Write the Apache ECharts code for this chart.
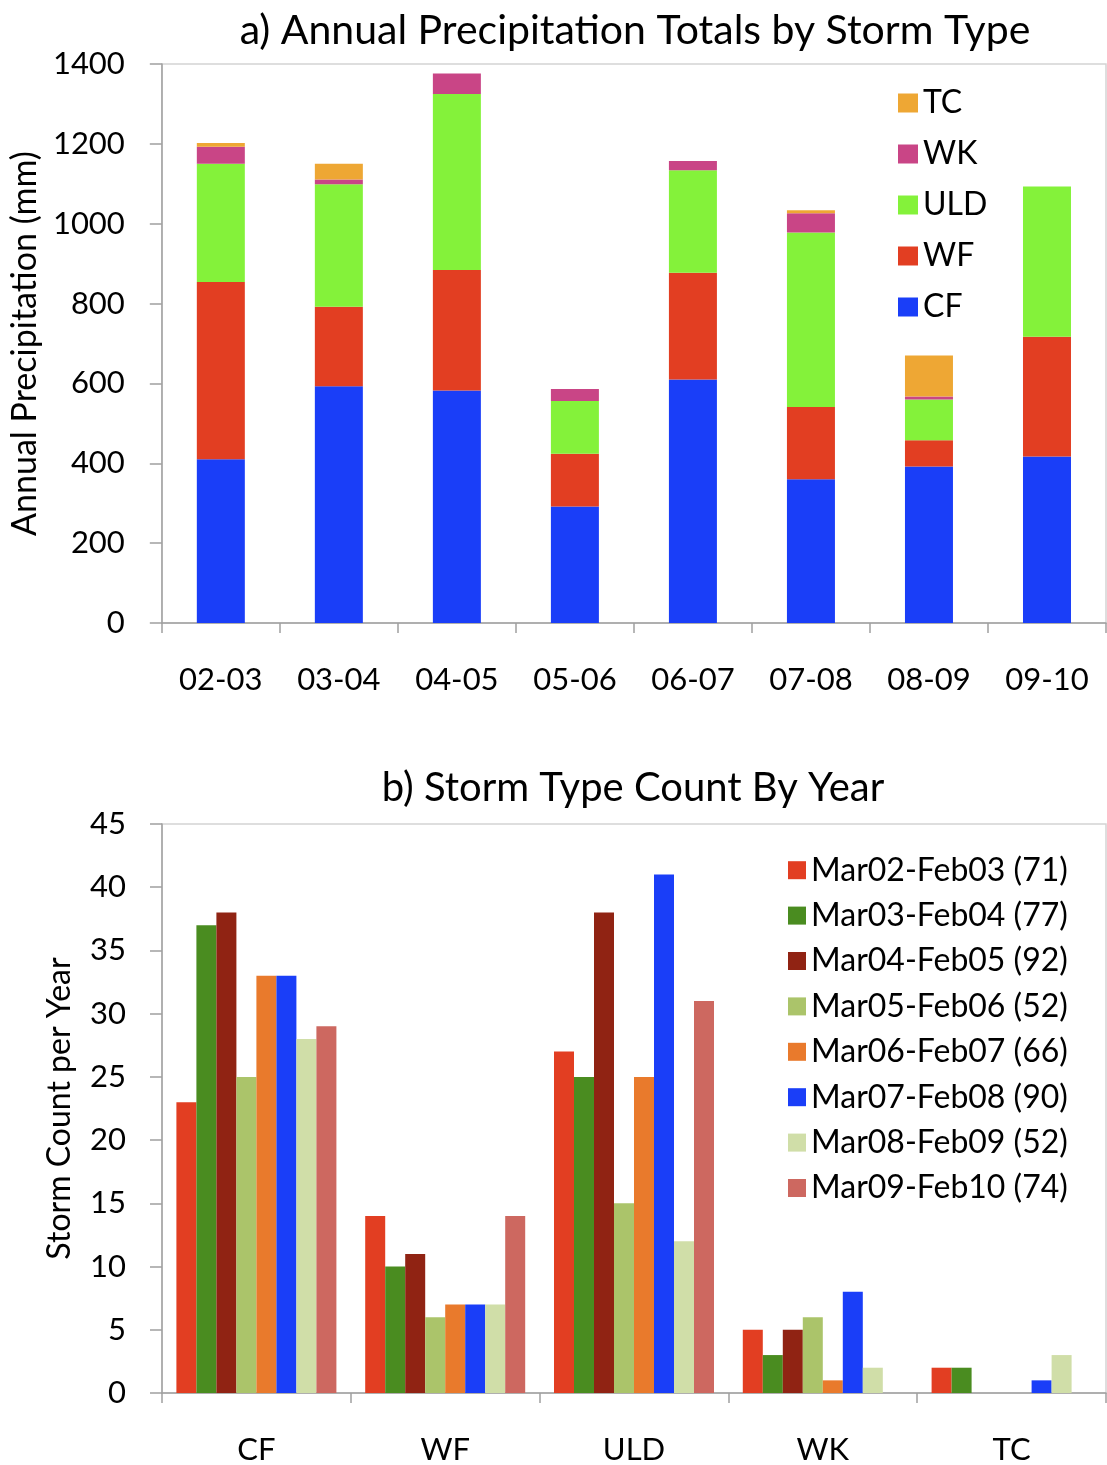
<!DOCTYPE html>
<html>
<head>
<meta charset="utf-8">
<script src="https://cdn.jsdelivr.net/npm/echarts@6/dist/echarts.min.js"></script>
<style>
html,body{margin:0;padding:0;background:#fff;}
#chart{width:1107px;height:1465px;}
</style>
</head>
<body>
<div id="chart"></div>
<script>
// ---- Panel a data (mm) ----
const years = ['02-03','03-04','04-05','05-06','06-07','07-08','08-09','09-10'];
const stormTypesA = ['CF','WF','ULD','WK','TC'];
const precipCF  = [410, 593, 582, 292, 610, 360, 392, 417];
const precipWF  = [444, 199, 302, 132, 267, 181,  66, 300];
const precipULD = [296, 307, 441, 132, 257, 437, 102, 376];
const precipWK  = [ 43,  12,  51,  30,  23,  48,   7,   0];
const precipTC  = [  9,  39,   0,   0,   0,   8, 103,   0];
const yTicksA = [0, 200, 400, 600, 800, 1000, 1200, 1400];

// ---- Panel b data (counts) ----
const stormTypesB = ['CF','WF','ULD','WK','TC'];
const seasons = ['Mar02-Feb03 (71)','Mar03-Feb04 (77)','Mar04-Feb05 (92)','Mar05-Feb06 (52)',
                 'Mar06-Feb07 (66)','Mar07-Feb08 (90)','Mar08-Feb09 (52)','Mar09-Feb10 (74)'];
const count0203 = [23, 14, 27, 5, 2];
const count0304 = [37, 10, 25, 3, 2];
const count0405 = [38, 11, 38, 5, 0];
const count0506 = [25,  6, 15, 6, 0];
const count0607 = [33,  7, 25, 1, 0];
const count0708 = [33,  7, 41, 8, 1];
const count0809 = [28,  7, 12, 2, 3];
const count0910 = [29, 14, 31, 0, 0];
const yTicksB = [0, 5, 10, 15, 20, 25, 30, 35, 40, 45];

const colorsA = {CF:'#1a3ef8', WF:'#e23e22', ULD:'#84f23a', WK:'#c94586', TC:'#eea734'};
const colorsB = ['#e23e22','#4a8c20','#902313','#abc46a','#e97a2c','#1a3ef8','#d0dea8','#cd6860'];

const FONT = 'Lato';
const axisGray = '#a0a0a0';

const chart = echarts.init(document.getElementById('chart'), null, {renderer:'canvas'});

const seriesA = [
  ['CF', precipCF], ['WF', precipWF], ['ULD', precipULD], ['WK', precipWK], ['TC', precipTC]
].map(([n, d]) => ({
  name: n, type: 'bar', stack: 'a', xAxisIndex: 0, yAxisIndex: 0,
  data: d, barWidth: 48, itemStyle: {color: colorsA[n]}
}));

const countsB = [count0203, count0304, count0405, count0506, count0607, count0708, count0809, count0910];
const seriesB = seasons.map((s, i) => ({
  name: s, type: 'bar', xAxisIndex: 1, yAxisIndex: 1,
  data: countsB[i], barWidth: 20, barGap: '0%',
  itemStyle: {color: colorsB[i]}
}));

const yAxisCommon = {
  type: 'value',
  nameLocation: 'middle',
  nameRotate: 90,
  axisLine: {show: true, lineStyle: {color: axisGray, width: 1.5}},
  axisTick: {show: true, length: 12, inside: false, lineStyle: {color: axisGray, width: 1.5}},
  splitLine: {show: false},
};
const xAxisCommon = {
  type: 'category',
  axisLine: {show: true, lineStyle: {color: axisGray, width: 1.5}},
  axisTick: {show: true, length: 10, alignWithLabel: false, lineStyle: {color: axisGray, width: 1.5}},
  splitLine: {show: false},
};

chart.setOption({
  backgroundColor: '#fff',
  animation: false,
  textStyle: {fontFamily: FONT, color: '#000'},
  title: [
    {text: 'a) Annual Precipitation Totals by Storm Type', left: 630, top: 5, textAlign: 'center',
     textStyle: {fontFamily: FONT, fontSize: 41, fontWeight: 'normal', color: '#000'}},
    {text: 'b) Storm Type Count By Year', left: 628, top: 763, textAlign: 'center',
     textStyle: {fontFamily: FONT, fontSize: 40, fontWeight: 'normal', color: '#000'}}
  ],
  legend: [
    {data: ['TC','WK','ULD','WF','CF'], orient: 'vertical', left: 893, top: 80,
     itemWidth: 20, itemHeight: 19, itemGap: 15, icon: 'rect',
     textStyle: {fontFamily: FONT, fontSize: 32, lineHeight: 36, color: '#000'}},
    {data: seasons, orient: 'vertical', left: 783, top: 848,
     itemWidth: 18, itemHeight: 18, itemGap: 11, icon: 'rect',
     textStyle: {fontFamily: FONT, fontSize: 32, lineHeight: 34.4, color: '#000'}}
  ],
  grid: [
    {left: 159, top: 64, width: 947, height: 559, show: true, borderColor: '#d4d4d4', borderWidth: 1.5},
    {left: 162, top: 824, width: 944, height: 569, show: true, borderColor: '#d4d4d4', borderWidth: 1.5}
  ],
  xAxis: [
    Object.assign({}, xAxisCommon, {gridIndex: 0, data: years,
      axisLabel: {margin: 41, fontFamily: FONT, fontSize: 31, color: '#000'}}),
    Object.assign({}, xAxisCommon, {gridIndex: 1, data: stormTypesB,
      axisLabel: {margin: 41, fontFamily: FONT, fontSize: 31, color: '#000'}})
  ],
  yAxis: [
    Object.assign({}, yAxisCommon, {gridIndex: 0, min: yTicksA[0], max: yTicksA[yTicksA.length-1], interval: 200,
      name: 'Annual Precipitation (mm)', nameGap: 114,
      nameTextStyle: {fontFamily: FONT, fontSize: 34, color: '#000'},
      axisLabel: {margin: 37, fontFamily: FONT, fontSize: 31, color: '#000', formatter: v => String(v)}}),
    Object.assign({}, yAxisCommon, {gridIndex: 1, min: yTicksB[0], max: yTicksB[yTicksB.length-1], interval: 5,
      name: 'Storm Count per Year', nameGap: 86,
      nameTextStyle: {fontFamily: FONT, fontSize: 32, color: '#000'},
      axisLabel: {margin: 36, fontFamily: FONT, fontSize: 31, color: '#000', formatter: v => String(v)}})
  ],
  series: seriesA.concat(seriesB)
});
</script>
</body>
</html>
